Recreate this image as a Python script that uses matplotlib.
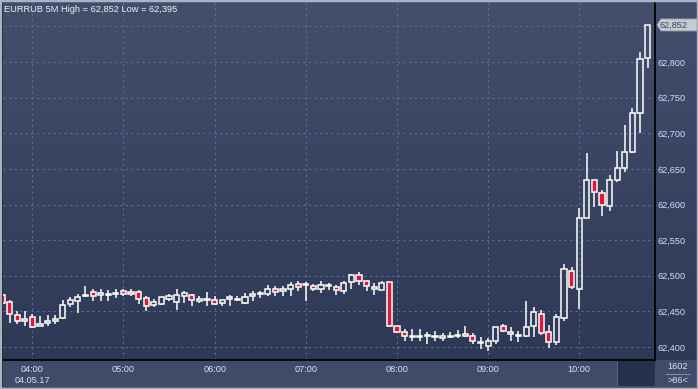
import matplotlib
matplotlib.use("Agg")
import matplotlib.pyplot as plt
import numpy as np
import pandas as pd
from matplotlib.patches import Rectangle, Polygon
from matplotlib.colors import LinearSegmentedColormap

# EURRUB 5-minute candles, 04.05.17 03:40 .. 10:45
opens = [62.473, 62.463, 62.445, 62.437, 62.442, 62.430, 62.434, 62.436, 62.441, 62.461,
         62.464, 62.471, 62.477, 62.473, 62.473, 62.475, 62.478, 62.477, 62.477, 62.469,
         62.459, 62.461, 62.468, 62.463, 62.472, 62.473, 62.465, 62.466, 62.466, 62.462,
         62.470, 62.468, 62.462, 62.471, 62.474, 62.475, 62.482, 62.478, 62.481, 62.489,
         62.487, 62.485, 62.482, 62.486, 62.484, 62.478, 62.491, 62.501, 62.492, 62.482,
         62.480, 62.491, 62.430, 62.421, 62.416, 62.414, 62.415, 62.414, 62.412, 62.414,
         62.416, 62.418, 62.416, 62.406, 62.402, 62.409, 62.429, 62.421, 62.416, 62.416,
         62.429, 62.447, 62.421, 62.407, 62.441, 62.507, 62.482, 62.581, 62.634, 62.616,
         62.598, 62.635, 62.651, 62.674, 62.728, 62.805]
highs = [62.476, 62.466, 62.450, 62.451, 62.446, 62.444, 62.445, 62.445, 62.466, 62.470,
         62.474, 62.486, 62.481, 62.482, 62.480, 62.482, 62.482, 62.481, 62.480, 62.471,
         62.467, 62.470, 62.475, 62.482, 62.478, 62.475, 62.472, 62.477, 62.471, 62.466,
         62.473, 62.472, 62.476, 62.478, 62.479, 62.487, 62.485, 62.486, 62.491, 62.493,
         62.491, 62.489, 62.493, 62.490, 62.487, 62.492, 62.503, 62.505, 62.492, 62.490,
         62.492, 62.491, 62.430, 62.425, 62.425, 62.425, 62.421, 62.422, 62.419, 62.421,
         62.424, 62.430, 62.420, 62.414, 62.412, 62.428, 62.433, 62.428, 62.423, 62.464,
         62.456, 62.452, 62.431, 62.446, 62.516, 62.512, 62.595, 62.672, 62.635, 62.620,
         62.641, 62.675, 62.712, 62.735, 62.814, 62.852]
lows = [62.459, 62.434, 62.432, 62.429, 62.427, 62.429, 62.429, 62.432, 62.440, 62.456,
        62.448, 62.470, 62.464, 62.465, 62.464, 62.469, 62.472, 62.472, 62.461, 62.451,
        62.456, 62.459, 62.464, 62.452, 62.462, 62.458, 62.462, 62.458, 62.459, 62.458,
        62.457, 62.464, 62.460, 62.465, 62.469, 62.471, 62.471, 62.472, 62.472, 62.478,
        62.465, 62.478, 62.476, 62.480, 62.473, 62.474, 62.482, 62.487, 62.479, 62.473,
        62.480, 62.428, 62.419, 62.409, 62.409, 62.409, 62.404, 62.409, 62.409, 62.412,
        62.412, 62.414, 62.404, 62.397, 62.395, 62.404, 62.421, 62.409, 62.407, 62.414,
        62.414, 62.417, 62.399, 62.403, 62.437, 62.482, 62.453, 62.581, 62.597, 62.584,
        62.591, 62.632, 62.646, 62.672, 62.701, 62.792]
closes = [62.462, 62.447, 62.437, 62.439, 62.428, 62.433, 62.436, 62.440, 62.459, 62.466,
          62.470, 62.473, 62.471, 62.476, 62.474, 62.476, 62.474, 62.474, 62.467, 62.458,
          62.463, 62.470, 62.471, 62.473, 62.476, 62.466, 62.467, 62.467, 62.460, 62.466,
          62.467, 62.466, 62.470, 62.475, 62.475, 62.482, 62.477, 62.482, 62.487, 62.484,
          62.489, 62.482, 62.487, 62.487, 62.480, 62.490, 62.501, 62.493, 62.486, 62.484,
          62.490, 62.430, 62.421, 62.416, 62.414, 62.415, 62.416, 62.415, 62.416, 62.415,
          62.417, 62.415, 62.408, 62.407, 62.409, 62.428, 62.423, 62.418, 62.417, 62.428,
          62.449, 62.419, 62.407, 62.442, 62.509, 62.484, 62.581, 62.635, 62.617, 62.600,
          62.634, 62.651, 62.673, 62.729, 62.804, 62.852]
times = pd.date_range("2017-05-04 03:40", periods=len(opens), freq="5min")
price_ticks = [62.40, 62.45, 62.50, 62.55, 62.60, 62.65, 62.70, 62.75, 62.80, 62.85]

W, H = 698, 389
def fx(x): return x / W
def fy(y): return 1 - y / H

fig = plt.figure(figsize=(6.98, 3.89), dpi=100)
plt.rcParams['font.family'] = ['Liberation Sans', 'DejaVu Sans']

# gradient background
bg = fig.add_axes([0, 0, 1, 1], zorder=-2)
cmap = LinearSegmentedColormap.from_list("bg", ["#2b3753", "#434f6d"])
bg.imshow(np.linspace(0, 1, 256)[:, None], cmap=cmap, aspect='auto',
          extent=[0, 1, 0, 1], origin='lower')
bg.set_axis_off()

# bottom strip
fig.add_artist(Rectangle((0, 0), 1, fy(360), transform=fig.transFigure,
                         facecolor="#3e4c69", edgecolor="none", zorder=-1))
fig.add_artist(Rectangle((fx(618), fy(386)), fx(655) - fx(618), fy(361) - fy(386),
                         transform=fig.transFigure, facecolor="#26324c",
                         edgecolor="none", zorder=-1))
fig.add_artist(Rectangle((fx(617), fy(386)), fx(1.2), fy(362) - fy(386),
                         transform=fig.transFigure, facecolor="#56647e",
                         edgecolor="none", zorder=-1))

ax = fig.add_axes([fx(3), fy(360), fx(655) - fx(3), fy(1) - fy(360)], zorder=1)
ax.set_facecolor("none")

x = np.arange(len(opens))
o = np.array(opens); c = np.array(closes)
hi = np.array(highs); lo = np.array(lows)
top = np.maximum(o, c); bot = np.minimum(o, c)
down = c < o
body_h = np.maximum(top - bot, 0.0012)
face = ["#e2163c" if d else "none" for d in down]

# wicks only outside the body, so hollow bodies stay empty
ax.vlines(x, hi, top, color="white", lw=1.1, zorder=3)
ax.vlines(x, bot, lo, color="white", lw=1.1, zorder=3)
ax.bar(x, body_h, bottom=bot, width=0.68, color=face, edgecolor="white",
       linewidth=1.1, zorder=4)

ax.set_xlim(0.14, 85.97)
ax.set_ylim(62.3818, 62.8856)

hour_pos = [i for i, t in enumerate(times) if t.minute == 0]
hour_lab = [t.strftime("%H:%M") for t in times if t.minute == 0]
hour_lab[0] = hour_lab[0] + "\n" + times[0].strftime("%d.%m.%y")
ax.set_xticks(hour_pos)
ax.set_xticklabels(hour_lab)
ax.set_yticks(price_ticks)
ax.set_yticklabels([f"{v:.3f}".replace(".", ",") if v < 62.84 else "" for v in price_ticks])
ax.yaxis.tick_right()
ax.tick_params(axis='y', length=0, pad=2, labelsize=6.6, labelcolor="#cfe0ff")
ax.tick_params(axis='x', length=0, pad=3.5, labelsize=6.6, labelcolor="#d6e2f8")
for lab in ax.get_xticklabels():
    lab.set_linespacing(1.25)
ax.grid(True, color="#5d6d8c", linestyle=(0, (2, 3)), linewidth=0.8, zorder=0)
ax.set_axisbelow(True)
ax.spines["top"].set_visible(False)
ax.spines["left"].set_visible(False)
ax.spines["right"].set_color("black")
ax.spines["right"].set_linewidth(1.3)
ax.spines["bottom"].set_color("black")
ax.spines["bottom"].set_linewidth(1.3)

# title
fig.text(fx(4), fy(10), "EURRUB 5M High = 62,852 Low = 62,395", ha="left", va="center",
         fontsize=6.7, color="#eef1f7")

# last price marker
last = closes[-1]
yy = ax.transData.transform((0, last))[1]
yp = H - yy
pts = [(657, yp), (661, yp - 6), (697, yp - 6), (697, yp + 6), (661, yp + 6)]
fig.add_artist(Polygon([(fx(a), fy(b)) for a, b in pts], closed=True,
                       transform=fig.transFigure, facecolor="#c6cad2",
                       edgecolor="#9aa0ab", linewidth=0.6, zorder=5))
fig.text(fx(660), fy(yp), f"{last:.3f}".replace(".", ","), ha="left", va="center",
         fontsize=6.6, color="#3a4560", zorder=6)

# bar counter
fig.text(fx(678), fy(366.5), "1602", ha="center", va="center", fontsize=6.6, color="#d6e2f8")
fig.add_artist(plt.Line2D([fx(666), fx(690)], [fy(374), fy(374)], transform=fig.transFigure,
                          color="#7d8aa2", lw=0.8))
fig.text(fx(678), fy(380.5), ">86<", ha="center", va="center", fontsize=6.6, color="#d6e2f8")

# frame
fig.add_artist(plt.Line2D([fx(2), fx(2)], [fy(386), fy(0)], transform=fig.transFigure,
                          color="black", lw=1.2))
fig.add_artist(Rectangle((0, 0), 1, 1, transform=fig.transFigure, facecolor="none",
                         edgecolor="#aab3c3", linewidth=2.5, zorder=10))

fig.savefig("out.png", dpi=100)
